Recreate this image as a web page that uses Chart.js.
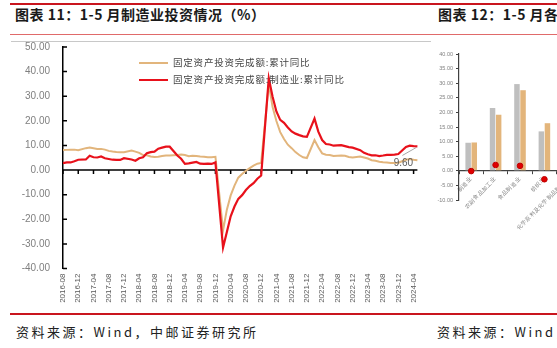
<!DOCTYPE html>
<html>
<head>
<meta charset="utf-8">
<script src="https://cdn.jsdelivr.net/npm/chart.js@4.4.1/dist/chart.umd.min.js"></script>
<style>
  html, body {
    margin: 0;
    padding: 0;
    width: 557px;
    height: 348px;
    overflow: hidden;
    background: #fff;
    position: relative;
    font-family: "Noto Sans CJK SC", sans-serif;
  }
  .rule { position: absolute; }
  .title {
    position: absolute;
    top: 4px;
    font-size: 14px;
    font-weight: bold;
    color: #1a1a1a;
    white-space: nowrap;
    letter-spacing: 0.5px;
  }
  .source {
    position: absolute;
    top: 322px;
    font-size: 13px;
    color: #222;
    white-space: nowrap;
    letter-spacing: 2.5px;
  }
  .legend {
    position: absolute;
    left: 139px;
    font-size: 9.5px;
    color: #444;
    white-space: nowrap;
    line-height: 12px;
    letter-spacing: 0.8px;
  }
  .legend i {
    display: inline-block;
    width: 29px;
    height: 2px;
    vertical-align: middle;
    margin-right: 5px;
  }
  canvas { position: absolute; }
</style>
</head>
<body>
<div class="rule" style="left:10px;top:3px;width:547px;height:2px;background:#c9151e"></div>
<div class="title" style="left:15px">图表 11：1-5 月制造业投资情况（%）</div>
<div class="title" style="left:438px">图表 12：1-5 月各行业投资情况（%）</div>
<div class="rule" style="left:10px;top:34px;width:547px;height:1px;background:#e06a6a"></div>
<div class="rule" style="left:11px;top:41px;width:420px;height:1px;background:#c8c8c8"></div>

<canvas id="chart11" width="432" height="272" style="left:0;top:40px;width:432px;height:272px"></canvas>
<canvas id="chart12" width="161" height="272" style="left:425px;top:40px;width:161px;height:272px"></canvas>

<div class="legend" style="top:56px"><i style="background:#e2b57c"></i>固定资产投资完成额:累计同比</div>
<div class="legend" style="top:73px"><i style="background:#e8111b"></i>固定资产投资完成额:制造业:累计同比</div>

<div class="rule" style="left:10px;top:313px;width:547px;height:1.5px;background:#c9151e"></div>
<div class="source" style="left:16px">资料来源：Wind，中邮证券研究所</div>
<div class="source" style="left:437px">资料来源：Wind，中邮证券研究所</div>

<script>
// month labels 2016-08 .. 2024-05
const months = [];
for (let y = 2016, m = 8; y < 2024 || (y === 2024 && m <= 5); ) {
  months.push(`${y}-${String(m).padStart(2, "0")}`);
  m++;
  if (m > 12) { m = 1; y++; }
}

// 固定资产投资完成额:累计同比 (Jan has no release)
const fai2016 = [8.1, 8.2, 8.3, 8.3, 8.1];
const fai2017 = [null, 8.9, 9.2, 8.9, 8.6, 8.6, 8.3, 7.8, 7.5, 7.3, 7.2, 7.2];
const fai2018 = [null, 7.9, 7.5, 7.0, 6.1, 6.0, 5.5, 5.3, 5.4, 5.7, 5.9, 5.9];
const fai2019 = [null, 6.1, 6.3, 6.1, 5.6, 5.8, 5.7, 5.5, 5.4, 5.2, 5.2, 5.4];
const fai2020 = [null, -24.5, -16.1, -10.3, -6.3, -3.1, -1.6, -0.3, 0.8, 1.8, 2.6, 2.9];
const fai2021 = [null, 35.0, 25.6, 19.9, 15.4, 12.6, 10.3, 8.9, 7.3, 6.1, 5.2, 4.9];
const fai2022 = [null, 12.2, 9.3, 6.8, 6.2, 6.1, 5.7, 5.8, 5.9, 5.8, 5.3, 5.1];
const fai2023 = [null, 5.5, 5.1, 4.7, 4.0, 3.8, 3.4, 3.2, 3.1, 2.9, 2.9, 3.0];
const fai2024 = [null, 4.2, 4.5, 4.2, 4.0];

// 固定资产投资完成额:制造业:累计同比
const mfg2016 = [2.8, 3.1, 3.1, 3.6, 4.2];
const mfg2017 = [null, 4.3, 5.8, 5.2, 5.1, 5.5, 4.8, 4.5, 4.2, 4.1, 4.1, 4.8];
const mfg2018 = [null, 4.3, 3.8, 4.8, 5.2, 6.8, 7.3, 7.5, 8.7, 9.1, 9.5, 9.5];
const mfg2019 = [null, 5.9, 4.6, 2.5, 2.7, 3.0, 3.3, 2.6, 2.5, 2.6, 2.5, 3.1];
const mfg2020 = [null, -31.5, -25.2, -18.8, -14.8, -11.7, -10.2, -8.1, -6.5, -5.3, -3.5, -2.2];
const mfg2021 = [null, 37.3, 29.8, 23.8, 20.4, 19.2, 17.3, 15.7, 14.8, 14.2, 13.7, 13.5];
const mfg2022 = [null, 20.9, 15.6, 12.2, 10.6, 10.4, 9.9, 10.0, 10.1, 9.7, 9.3, 9.1];
const mfg2023 = [null, 8.1, 7.0, 6.4, 6.0, 6.0, 5.7, 5.9, 6.2, 6.2, 6.3, 6.5];
const mfg2024 = [null, 9.4, 9.9, 9.7, 9.6];

const faiTotal = [].concat(fai2016, fai2017, fai2018, fai2019, fai2020, fai2021, fai2022, fai2023, fai2024);
const faiMfg = [].concat(mfg2016, mfg2017, mfg2018, mfg2019, mfg2020, mfg2021, mfg2022, mfg2023, mfg2024);

// chart 12 (only the left part is visible)
const industries = ["制造业", "农副食品加工业", "食品制造业", "纺织业", "化学原料及化学制品制造业"];
const ytdMay = [9.6, 21.5, 29.7, 13.5, null];
const ytdApr = [9.7, 19.2, 27.6, 16.3, null];
const ytdChange = [-0.1, 2.0, 1.7, -2.9, null];

const TAN = "#e2b57c";
const RED = "#e8111b";

// zero line with its ticks, inner ticks on the y axis, last value label
const axisMarks = {
  id: "axisMarks",
  beforeDatasetsDraw(chart) {
    const { ctx, chartArea, scales: { x, y } } = chart;
    const y0 = y.getPixelForValue(0);
    ctx.save();
    ctx.strokeStyle = "#000";
    ctx.lineWidth = 1.5;
    ctx.beginPath();
    ctx.moveTo(chartArea.left, y0);
    ctx.lineTo(chartArea.right, y0);
    x.ticks.forEach((t, i) => {
      if (i % 4 === 0) {
        const px = x.getPixelForTick(i);
        ctx.moveTo(px, y0);
        ctx.lineTo(px, y0 + 4);
      }
    });
    y.ticks.forEach((t, i) => {
      const py = y.getPixelForTick(i);
      ctx.moveTo(chartArea.left, py);
      ctx.lineTo(chartArea.left + 4, py);
    });
    ctx.stroke();
    ctx.restore();
  },
  afterDatasetsDraw(chart) {
    const meta = chart.getDatasetMeta(1);
    const last = meta.data[meta.data.length - 1];
    const value = faiMfg[faiMfg.length - 1];
    const { ctx } = chart;
    ctx.save();
    ctx.strokeStyle = "#a6a6a6";
    ctx.lineWidth = 1;
    ctx.beginPath();
    ctx.moveTo(last.x - 1, last.y + 1);
    ctx.lineTo(last.x - 15, last.y + 9);
    ctx.stroke();
    ctx.fillStyle = "#595959";
    ctx.font = "10px 'Liberation Sans'";
    ctx.textAlign = "center";
    ctx.textBaseline = "middle";
    ctx.fillText(value.toFixed(2), last.x - 14, last.y + 17);
    ctx.restore();
  },
};

new Chart(document.getElementById("chart11"), {
  type: "line",
  data: {
    labels: months,
    datasets: [
      {
        label: "固定资产投资完成额:累计同比",
        data: faiTotal,
        borderColor: TAN,
        borderWidth: 2,
        pointRadius: 0,
        spanGaps: true,
        order: 1,
      },
      {
        label: "固定资产投资完成额:制造业:累计同比",
        data: faiMfg,
        borderColor: RED,
        borderWidth: 2.2,
        pointRadius: 0,
        spanGaps: true,
        order: 0,
      },
    ],
  },
  options: {
    responsive: false,
    animation: false,
    layout: { padding: { left: 0, right: 5, top: 7, bottom: 0 } },
    plugins: { legend: { display: false }, tooltip: { enabled: false } },
    scales: {
      x: {
        ticks: {
          autoSkip: false,
          maxRotation: 90,
          minRotation: 90,
          padding: 5,
          color: "#595959",
          font: { size: 8, family: "'Liberation Sans'" },
          callback: (v, i) => (i % 4 === 0 ? months[i] : ""),
        },
        grid: { display: false, drawTicks: false },
        border: { display: false },
        afterFit: (s) => { s.height = 43.5; },
      },
      y: {
        min: -40,
        max: 50,
        ticks: {
          stepSize: 10,
          padding: 0,
          color: "#7f7f7f",
          font: { size: 10, family: "'Liberation Sans'" },
          callback: (v) => v.toFixed(2),
        },
        // invisible outer tick marks keep the labels away from the axis
        grid: { drawOnChartArea: false, drawTicks: true, tickLength: 13, tickColor: "rgba(0,0,0,0)" },
        border: { color: "#000", width: 1.5 },
        afterFit: (s) => { s.width = 63; },
      },
    },
  },
  plugins: [axisMarks],
});

new Chart(document.getElementById("chart12"), {
  type: "bar",
  data: {
    labels: industries,
    datasets: [
      {
        type: "line",
        label: "变化",
        data: ytdChange,
        showLine: false,
        pointRadius: 2.8,
        pointBackgroundColor: "#e00000",
        pointBorderColor: "#c00000",
        order: 0,
      },
      { label: "1-5月", data: ytdMay, backgroundColor: "#bfbfbf", order: 1 },
      { label: "1-4月", data: ytdApr, backgroundColor: "#e3b57b", order: 1 },
    ],
  },
  options: {
    responsive: false,
    animation: false,
    layout: { padding: { left: 0, right: 0, top: 14, bottom: 112 } },
    datasets: { bar: { categoryPercentage: 0.5, barPercentage: 0.9 } },
    plugins: { legend: { display: false }, tooltip: { enabled: false } },
    scales: {
      x: {
        position: { y: 0 },
        ticks: {
          autoSkip: false,
          maxRotation: 45,
          minRotation: 45,
          padding: 2,
          color: "#808080",
          font: { size: 5.5 },
        },
        grid: { drawOnChartArea: false, tickLength: 3, color: "#404040", offset: true },
        border: { color: "#404040", width: 1.2 },
        afterFit: (s) => { s.height = 0; },
      },
      y: {
        min: -10,
        max: 40,
        ticks: {
          stepSize: 5,
          padding: 3,
          color: "#808080",
          font: { size: 5.5 },
          callback: (v) => v.toFixed(2),
        },
        grid: { drawOnChartArea: false, tickLength: 3, color: "#404040" },
        border: { color: "#404040", width: 1.2 },
        afterFit: (s) => { s.width = 34; },
      },
    },
  },
});
</script>
</body>
</html>
